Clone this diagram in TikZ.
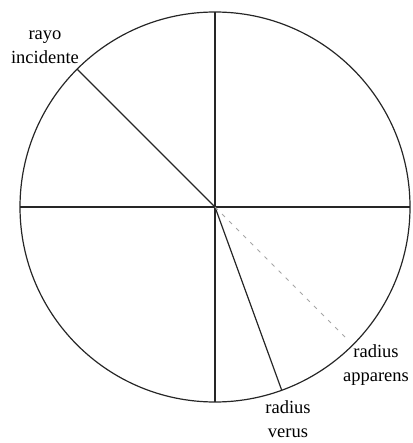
\documentclass[tikz,border=0pt]{standalone}
\usepackage{fontspec}
\setmainfont{Liberation Serif}
\begin{document}
\begin{tikzpicture}[x=1pt,y=-1pt,
  ln/.style={line width=1.2pt,black!85},
  lbl/.style={align=center,inner sep=0pt,font=\fontsize{18.5}{24}\selectfont}]
\useasboundingbox (0,0) rectangle (412,443);
\coordinate (c) at (215,207);
\draw[ln] (c) circle[radius=195];
\coordinate (l) at (20,207);
\coordinate (r) at (410,207);
\coordinate (t) at (215,12);
\coordinate (b) at (215,402);
\draw[ln] (l) -- (r);
\draw[ln] (t) -- (b);
\draw[ln] (c) -- ++(-137.9,-137.9) coordinate (inc);
\draw[ln] (c) -- ++(66.7,183.2) coordinate (ver);
\draw[gray!70,line width=1pt,dash pattern=on 4pt off 6pt] (c) -- ++(133,133) coordinate (app);
\node[lbl] (tinc) at (45,47) {rayo\\incidente};
\node[lbl] (tapp) at (376,365) {radius\\apparens};
\node[lbl] (tver) at (288,419) {radius\\verus};
\end{tikzpicture}
\end{document}
